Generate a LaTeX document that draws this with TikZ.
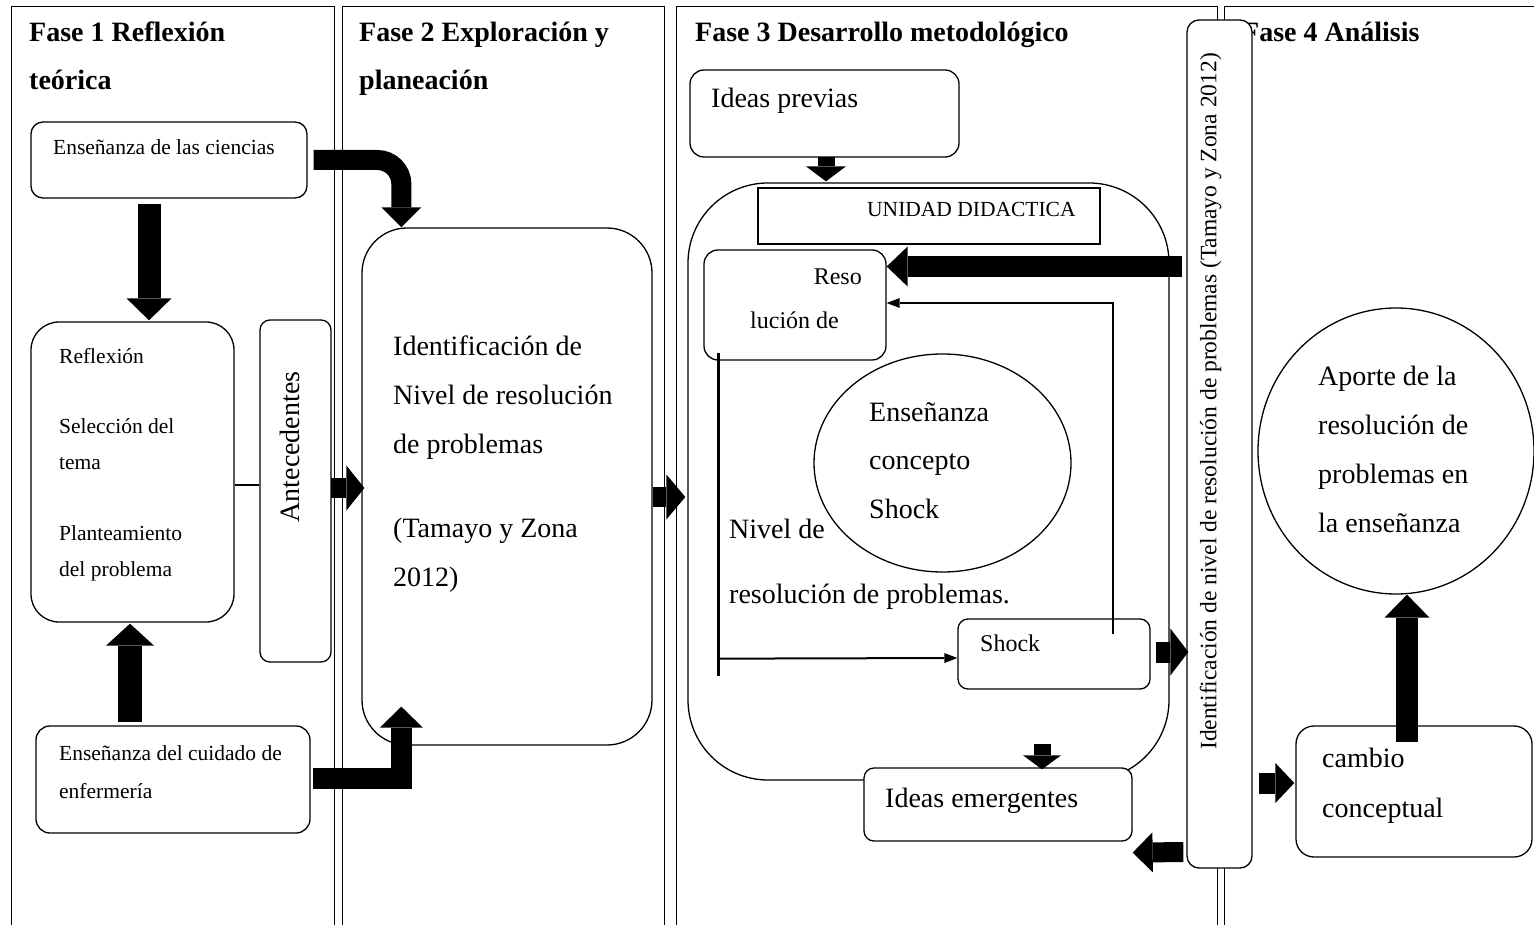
\documentclass[tikz,border=0pt]{standalone}
\usepackage{fontspec}
\setmainfont{Liberation Serif}
\usetikzlibrary{arrows.meta,calc,shapes.geometric}
\newcommand{\fsz}[2]{\fontsize{#1}{#2}\selectfont}
\begin{document}
\begin{tikzpicture}[x=1pt,y=-1pt,
  panel/.style={draw, line width=1.4pt, inner sep=0pt, anchor=north west},
  rbox/.style={draw, line width=1.3pt, fill=white, rounded corners=#1, inner sep=0pt},
  rbox/.default=12pt,
  txt/.style={inner sep=0pt, align=left, anchor=base west},
  ttl/.style={txt, font=\bfseries\fsz{28}{48}},
  bigt/.style={font=\fsz{28}{49}},
  smallt/.style={font=\fsz{21.5}{38}},
  fat/.style n args={3}{line width=#1, -{Triangle[width=#2, length=#3, line width=0pt]}},
  thinarr/.style={line width=2pt, -{Triangle[width=10pt, length=13pt, line width=0pt]}}
]
\useasboundingbox (0,0) rectangle (1534,925);
\fill[white] (0,0) rectangle (1534,925);

% panels
\node[panel, minimum width=323pt, minimum height=950pt] (p1) at (11,6) {};
\node[panel, minimum width=322pt, minimum height=950pt] (p2) at (342,6) {};
\node[panel, minimum width=541pt, minimum height=950pt] (p3) at (676,6) {};
\node[panel, minimum width=330pt, minimum height=950pt] (p4) at (1224,6) {};

% titles (multi-line nodes: base = baseline of last line)
\node[ttl] (t1) at (29,90) {Fase 1 Reflexión\\teórica};
\node[ttl] (t2) at (359,90) {Fase 2 Exploración y\\planeación};
\node[ttl] (t3) at (695,42) {Fase 3 Desarrollo metodológico};
\node[ttl] (t4) at (1242,42) {Fase 4 Análisis};

% Fase 1
\node[rbox=12pt, minimum width=276pt, minimum height=76pt] (ens1) at (169,160) {};
\node[txt, smallt] (ens1t) at (53,155) {Enseñanza de las ciencias};
\node[rbox=28pt, minimum width=203pt, minimum height=300pt] (refl) at (132.5,472) {};
\node[txt, font=\fsz{21.5}{36}] (reflt) at (59,576) {Reflexión\\[34pt]Selección del\\tema\\[35pt]Planteamiento\\del problema};
\node[rbox=10pt, minimum width=71pt, minimum height=342pt] (ante) at (295.5,491) {};
\node[inner sep=0pt, rotate=90, font=\fsz{28}{34}] (antet) at (289.5,447) {Antecedentes};
\node[rbox=14pt, minimum width=274pt, minimum height=107pt] (ens2) at (173,779.5) {};
\node[txt, smallt] (ens2t) at (59,798) {Enseñanza del cuidado de\\enfermería};

% Fase 2
\node[rbox=45pt, minimum width=290pt, minimum height=517pt] (ident) at (507,486.5) {};
\node[txt, bigt] (identt) at (393,586) {Identificación de\\Nivel de resolución\\de problemas\\[35pt](Tamayo y Zona\\2012)};

% Fase 3
\node[rbox=14pt, minimum width=269pt, minimum height=87pt] (prev) at (824.5,113.5) {};
\node[txt, bigt] (prevt) at (711,108) {Ideas previas};
\node[rbox=80pt, minimum width=481pt, minimum height=597pt] (outer) at (928.5,481.5) {};
\node[draw, line width=1.3pt, fill=white, inner sep=0pt, minimum width=342pt, minimum height=56pt] (unid) at (929,216) {};
\node[txt, smallt] (unidt) at (867,217) {UNIDAD DIDACTICA};
\node[rbox=14pt, minimum width=182pt, minimum height=110pt] (reso) at (795,305) {};
\node[inner sep=0pt, anchor=base east, font=\fsz{24}{30}] (resot1) at (862,285) {Reso};
\node[txt, font=\fsz{24}{30}] (resot2) at (750,328) {lución de};
\node[draw, ellipse, line width=1.3pt, inner sep=0pt, minimum width=257pt, minimum height=218pt] (circ) at (942.5,463) {};
\node[txt, font=\fsz{28}{48.5}] (circt) at (869,518) {Enseñanza\\concepto\\Shock};
\node[txt, bigt] (nivel) at (729,603) {Nivel de\\[16pt]resolución de problemas.};
\node[rbox=10pt, minimum width=192pt, minimum height=70pt] (shock) at (1054,654) {};
\node[txt, font=\fsz{24}{30}] (shockt) at (980,651) {Shock};
\node[rbox=10pt, minimum width=268pt, minimum height=73pt] (emerg) at (998,804.5) {};
\node[txt, bigt] (emergt) at (885,807) {Ideas emergentes};

% Fase 4
\node[draw, ellipse, line width=1.3pt, inner sep=0pt, minimum width=276pt, minimum height=286pt] (aporte) at (1396,451) {};
\node[txt, bigt] (aportet) at (1318,532) {Aporte de la\\resolución de\\problemas en\\la enseñanza};
\node[rbox=18pt, minimum width=236pt, minimum height=131pt] (cambio) at (1414,791.5) {};
\node[txt, font=\fsz{28}{50}] (cambiot) at (1322,817) {cambio\\conceptual};

% vertical box
\node[rbox=12pt, minimum width=65pt, minimum height=848pt] (vert) at (1219.5,444) {};
\node[inner sep=0pt, rotate=90, font=\fsz{23.5}{28}] (vertt) at (1210.5,401.5) {Identificación de nivel de resolución de problemas (Tamayo y Zona 2012)};

% connectors
\draw[fat={20pt}{40pt}{20pt}, rounded corners=24pt] ($(ens1.east)+(6,0)$) -| ($(ident.north west)+(40,0)$);
\draw[fat={23pt}{45pt}{22pt}] ($(ens1.south)+(-20,5)$) -- ($(refl.north)+(16.5,-1)$);
\draw[fat={24pt}{48pt}{22pt}] ($(ens2.north)+(-43,-3)$) -- ($(refl.south)+(-2.5,1)$);
\draw[fat={21pt}{43pt}{21pt}] ($(ens2.east)+(2,-1.5)$) -| ($(ident.south west)+(40,-39)$);
\draw[line width=2pt] ($(refl.east)+(0,13)$) -- ($(ante.west)+(0,-6)$);
\draw[fat={20pt}{45pt}{18pt}] ($(ante.east)+(-1,-3)$) -- ($(ident.west)+(3,1.5)$);
\draw[fat={20pt}{45pt}{19pt}] ($(ident.east)+(0,10.5)$) -- ($(outer.west)+(-2,15.5)$);
\draw[fat={17pt}{40pt}{15pt}] ($(prev.south)+(1.5,-1)$) -- ($(outer.north)+(-102.5,-1)$);
\draw[fat={21pt}{40pt}{21pt}] ($(vert.west)+(-4,-177.5)$) -- ($(reso.east)+(0,-38.5)$);
\draw[thinarr] ($(shock.north)+(59,16)$) |- ($(reso.east)+(0,-2)$);
\coordinate (rl) at ($(reso.south west)+(15,315)$);
\draw[line width=2.6pt] ($(reso.south west)+(15,-8)$) -- (rl);
\draw[thinarr] ($(rl)+(0,-17)$) -- ($(shock.west)+(0,4)$);
\draw[fat={21pt}{47pt}{18pt}] ($(shock.east)+(5,-2)$) -- ($(vert.west)+(2,208)$);
\coordinate (ein) at ($(emerg.north)+(44,-23)$);
\draw[fat={17pt}{38pt}{14pt}] (ein) -- ($(emerg.north)+(44,2)$);
\draw[fat={20pt}{40pt}{20pt}] ($(vert.west)+(-3,408)$) -- ($(emerg.south east)+(0,11)$);
\draw[fat={21pt}{40pt}{19pt}] ($(vert.east)+(6,339)$) -- ($(cambio.west)+(-1,-8.5)$);
\draw[fat={22pt}{45pt}{23pt}] ($(cambio.north)+(-7,17)$) -- ($(aporte.south)+(11,0)$);
\end{tikzpicture}
\end{document}
